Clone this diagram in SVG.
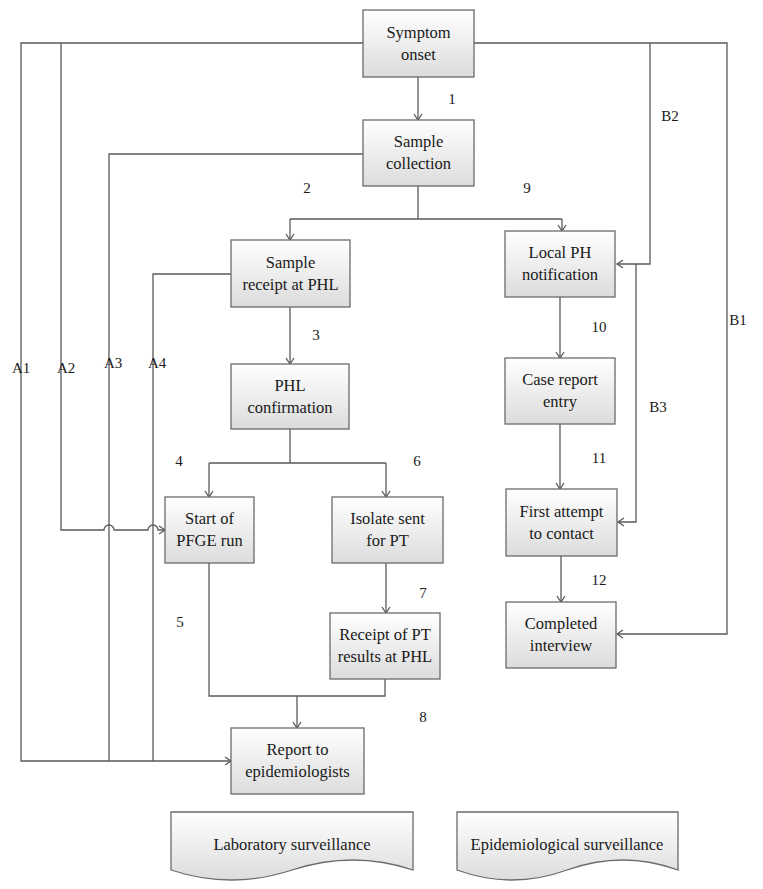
<svg xmlns="http://www.w3.org/2000/svg" width="763" height="889" viewBox="0 0 763 889">
<defs>
<linearGradient id="g" x1="0" y1="0" x2="0" y2="1">
<stop offset="0" stop-color="#ffffff"/>
<stop offset="1" stop-color="#dcdcdc"/>
</linearGradient>
<marker id="arr" markerWidth="10" markerHeight="10" refX="8" refY="5" orient="auto" markerUnits="userSpaceOnUse">
<path d="M2,1 L8,5 L2,9" fill="none" stroke="#5a5a5a" stroke-width="1.3"/>
</marker>
<style>
.box{fill:url(#g);stroke:#6b6b6b;stroke-width:1.3}
text{font-family:'Liberation Serif','Times New Roman',Tinos,'DejaVu Serif',serif;fill:#1a1a1a}
.t{font-size:16.5px;text-anchor:middle}
.l{font-size:15px;text-anchor:middle}
.la{font-size:15px}
.c{fill:none;stroke:#5a5a5a;stroke-width:1.3}
.a{marker-end:url(#arr)}
</style>
</defs>
<rect width="763" height="889" fill="#ffffff"/>
<g id="connectors">
<path class="c a" d="M418,77 V120"/>
<path class="c" d="M418,186 V219 M290,219 H562"/>
<path class="c a" d="M290,219 V240"/>
<path class="c a" d="M562,219 V231"/>
<path class="c a" d="M290,307 V364"/>
<path class="c" d="M290,429 V463 M209,463 H386"/>
<path class="c a" d="M209,463 V497"/>
<path class="c a" d="M386,463 V497"/>
<path class="c a" d="M386,563 V613"/>
<path class="c" d="M209,563 V696 H385 V679"/>
<path class="c a" d="M297,696 V728"/>
<path class="c a" d="M560,297 V358"/>
<path class="c a" d="M560,424 V489"/>
<path class="c a" d="M561,556 V602"/>
<path class="c a" d="M363,43 H21 V761 H231"/>
<path class="c a" d="M61,43 V530 H104 A5,5 0 0 1 114,530 H148 A5,5 0 0 1 158,530 H165"/>
<path class="c" d="M363,154 H109 V761"/>
<path class="c" d="M231,274 H153 V761"/>
<path class="c a" d="M474,43 H727 V634 H617"/>
<path class="c a" d="M650,43 V264 H617"/>
<path class="c a" d="M636,264 V522 H618"/>
</g>
<g id="labels">
<text class="l" x="452" y="104">1</text>
<text class="l" x="307" y="193">2</text>
<text class="l" x="316" y="340">3</text>
<text class="l" x="179" y="466">4</text>
<text class="l" x="180" y="627">5</text>
<text class="l" x="417" y="466">6</text>
<text class="l" x="423" y="598">7</text>
<text class="l" x="423" y="722">8</text>
<text class="l" x="527" y="193">9</text>
<text class="l" x="599" y="332">10</text>
<text class="l" x="599" y="463">11</text>
<text class="l" x="599" y="585">12</text>
<text class="la" x="12" y="373">A1</text>
<text class="la" x="57" y="373">A2</text>
<text class="la" x="104" y="368">A3</text>
<text class="la" x="148" y="368">A4</text>
<text class="l" x="738" y="325">B1</text>
<text class="l" x="670" y="121">B2</text>
<text class="l" x="658" y="412">B3</text>
</g>
<g id="n1"><rect class="box" x="363" y="10" width="111" height="67"/><text class="t" x="418.5" y="38">Symptom</text><text class="t" x="418.5" y="60">onset</text></g>
<g id="n2"><rect class="box" x="363" y="120" width="111" height="66"/><text class="t" x="418.5" y="147">Sample</text><text class="t" x="418.5" y="169">collection</text></g>
<g id="n3"><rect class="box" x="231" y="240" width="119" height="67"/><text class="t" x="290.5" y="268">Sample</text><text class="t" x="290.5" y="290">receipt at PHL</text></g>
<g id="n4"><rect class="box" x="231" y="364" width="118" height="65"/><text class="t" x="290" y="391">PHL</text><text class="t" x="290" y="413">confirmation</text></g>
<g id="n5"><rect class="box" x="165" y="497" width="89" height="66"/><text class="t" x="209.5" y="524">Start of</text><text class="t" x="209.5" y="546">PFGE run</text></g>
<g id="n6"><rect class="box" x="332" y="497" width="111" height="66"/><text class="t" x="387.5" y="524">Isolate sent</text><text class="t" x="387.5" y="546">for PT</text></g>
<g id="n7"><rect class="box" x="330" y="613" width="110" height="66"/><text class="t" x="385" y="640">Receipt of PT</text><text class="t" x="385" y="662">results at PHL</text></g>
<g id="n8"><rect class="box" x="231" y="728" width="133" height="66"/><text class="t" x="297.5" y="755">Report to</text><text class="t" x="297.5" y="777">epidemiologists</text></g>
<g id="n9"><rect class="box" x="505" y="231" width="110" height="66"/><text class="t" x="560" y="258">Local PH</text><text class="t" x="560" y="280">notification</text></g>
<g id="n10"><rect class="box" x="505" y="358" width="110" height="66"/><text class="t" x="560" y="385">Case report</text><text class="t" x="560" y="407">entry</text></g>
<g id="n11"><rect class="box" x="506" y="489" width="111" height="67"/><text class="t" x="561.5" y="517">First attempt</text><text class="t" x="561.5" y="539">to contact</text></g>
<g id="n12"><rect class="box" x="506" y="602" width="110" height="66"/><text class="t" x="561" y="629">Completed</text><text class="t" x="561" y="651">interview</text></g>
<g id="doc-lab"><path class="box" d="M171,812 H413 V870 Q353,850 292,870 Q231,890 171,870 Z"/><text class="t" x="292" y="850">Laboratory surveillance</text></g>
<g id="doc-epi"><path class="box" d="M457,812 H678 V870 Q623,850 567,870 Q512,890 457,870 Z"/><text class="t" x="567" y="850">Epidemiological surveillance</text></g>
</svg>
